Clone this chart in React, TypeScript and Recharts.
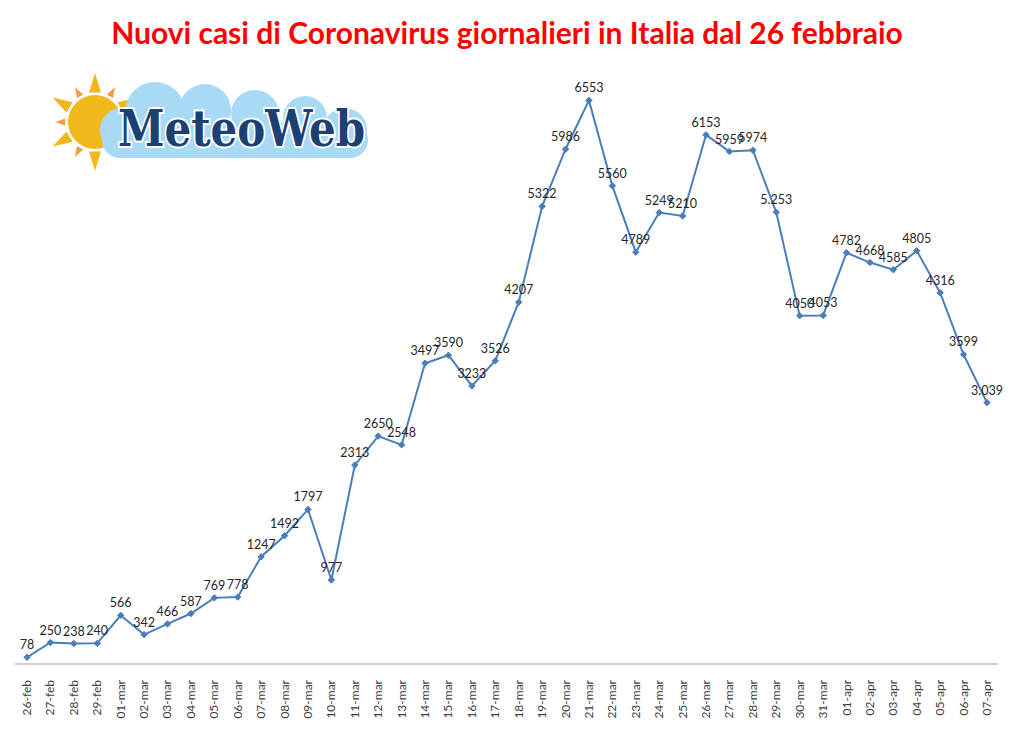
import { LineChart, Line, XAxis, YAxis, LabelList } from "recharts";

const days = [
  "26-feb", "27-feb", "28-feb", "29-feb",
  "01-mar", "02-mar", "03-mar", "04-mar", "05-mar", "06-mar", "07-mar", "08-mar", "09-mar", "10-mar",
  "11-mar", "12-mar", "13-mar", "14-mar", "15-mar", "16-mar", "17-mar", "18-mar", "19-mar", "20-mar",
  "21-mar", "22-mar", "23-mar", "24-mar", "25-mar", "26-mar", "27-mar", "28-mar", "29-mar", "30-mar",
  "31-mar", "01-apr", "02-apr", "03-apr", "04-apr", "05-apr", "06-apr", "07-apr",
];

const newCases = [
  78, 250, 238, 240, 566, 342, 466, 587, 769, 778, 1247, 1492, 1797, 977, 2313, 2650, 2548, 3497,
  3590, 3233, 3526, 4207, 5322, 5986, 6553, 5560, 4789, 5249, 5210, 6153, 5959, 5974, 5253, 4050,
  4053, 4782, 4668, 4585, 4805, 4316, 3599, 3039,
];

// labels as written on the original (some with a thousands dot)
const caseLabels = [
  "78", "250", "238", "240", "566", "342", "466", "587", "769", "778", "1247", "1492", "1797", "977",
  "2313", "2650", "2548", "3497", "3590", "3233", "3526", "4207", "5322", "5986", "6553", "5560",
  "4789", "5249", "5210", "6153", "5959", "5974", "5.253", "4050", "4053", "4782", "4668", "4585",
  "4805", "4316", "3599", "3.039",
];

const chartData = days.map((day, i) => ({ day, cases: newCases[i], label: caseLabels[i] }));

const FONT = "Lato, 'Open Sans', sans-serif";
const BLUE = "#4a7ebb";

function Diamond(props: any) {
  const { cx, cy } = props;
  if (cx == null || cy == null) return null;
  const s = 3.2;
  return (
    <path
      d={`M${cx},${cy - s} L${cx + s},${cy} L${cx},${cy + s} L${cx - s},${cy} Z`}
      fill={BLUE}
      stroke={BLUE}
    />
  );
}

function DayTick(props: any) {
  const { x, y, payload } = props;
  return (
    <text
      x={0}
      y={0}
      transform={`translate(${x + 4},${y + 8}) rotate(-90)`}
      textAnchor="end"
      fontSize={12}
      fontFamily={FONT}
      fill="#404040"
    >
      {payload.value}
    </text>
  );
}

function Logo() {
  const rays = [0, 30, 60, 90, 120, 150, 180, 210, 240, 270, 300, 330];
  return (
    <svg width={360} height={130} style={{ position: "absolute", left: 40, top: 60 }}>
      {/* sun */}
      <g transform="translate(55,62)">
        {rays.map((a) => {
          const big = a % 60 === 0;
          const r1 = 30;
          const r2 = big ? 49 : 40;
          const rad = ((a - 90) * Math.PI) / 180;
          const w = big ? 0.2 : 0.12;
          const p1x = Math.cos(rad - w) * r1;
          const p1y = Math.sin(rad - w) * r1;
          const p2x = Math.cos(rad + w) * r1;
          const p2y = Math.sin(rad + w) * r1;
          const tx = Math.cos(rad) * r2;
          const ty = Math.sin(rad) * r2;
          return (
            <path
              key={a}
              d={`M${p1x},${p1y} L${tx},${ty} L${p2x},${p2y} Z`}
              fill={big ? "#f2b51c" : "#f39a4a"}
            />
          );
        })}
        <circle r={27} fill="#f0b81a" />
      </g>
      {/* cloud */}
      <g fill="#a9daf5">
        <circle cx={82} cy={70} r={22} />
        <circle cx={115} cy={52} r={30} />
        <circle cx={165} cy={50} r={26} />
        <circle cx={215} cy={54} r={24} />
        <circle cx={265} cy={58} r={22} />
        <circle cx={305} cy={70} r={22} />
        <rect x={62} y={62} width={266} height={36} rx={18} />
      </g>
      <text
        x={78}
        y={86}
        fontFamily="'DejaVu Serif', 'Liberation Serif', serif"
        fontWeight="bold"
        fontSize={50}
        fill="#1c3f74"
        stroke="#ffffff"
        strokeWidth={4}
        paintOrder="stroke"
        textLength={247}
        lengthAdjust="spacingAndGlyphs"
      >
        MeteoWeb
      </text>
    </svg>
  );
}

export default function App() {
  return (
    <div
      style={{
        position: "absolute",
        left: 0,
        top: 0,
        width: 1024,
        height: 732,
        background: "#ffffff",
        fontFamily: FONT,
      }}
    >
      <div
        style={{
          position: "absolute",
          left: 0,
          top: 14,
          width: 1014,
          textAlign: "center",
          color: "#ff0000",
          fontWeight: "bold",
          fontSize: 30,
          fontFamily: FONT,
        }}
      >
        Nuovi casi di Coronavirus giornalieri in Italia dal 26 febbraio
      </div>
      <LineChart
        width={1024}
        height={732}
        data={chartData}
        margin={{ top: 62, right: 26, bottom: 8, left: 15 }}
      >
        <XAxis
          dataKey="day"
          interval={0}
          height={60}
          padding={{ left: 12, right: 11 }}
          tickLine={false}
          axisLine={{ stroke: "#bfbfbf", strokeWidth: 1.5 }}
          tick={<DayTick />}
        />
        <YAxis hide domain={[0, 7000]} />
        <Line
          type="linear"
          dataKey="cases"
          stroke={BLUE}
          strokeWidth={2}
          dot={<Diamond />}
          activeDot={false}
          isAnimationActive={false}
        >
          <LabelList
            dataKey="label"
            position="top"
            offset={8}
            fontSize={12.5}
            fontFamily={FONT}
            fill="#262626"
          />
        </Line>
      </LineChart>
      <Logo />
    </div>
  );
}
